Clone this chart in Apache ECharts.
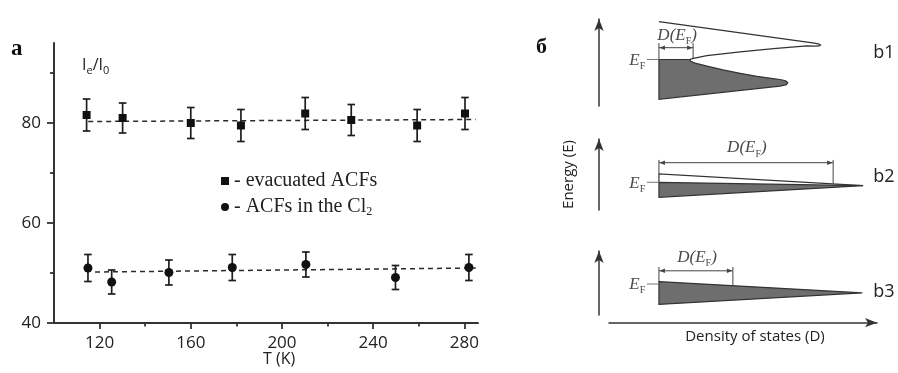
<!DOCTYPE html>
<html><head><meta charset="utf-8">
<script src="https://cdn.jsdelivr.net/npm/echarts@6/dist/echarts.min.js"></script>
<style>html,body{margin:0;padding:0;background:#fff}#c{width:898px;height:373px}</style>
</head><body><div id="c"></div>
<script>
// ---------------- Panel a data ----------------
const T_evac   = [114.3, 130.1, 160.0, 182.0, 210.2, 230.4, 259.3, 280.3];
const I_evac   = [81.6, 81.0, 80.0, 79.5, 81.9, 80.6, 79.5, 81.9];
const err_evac = [3.2, 3.0, 3.1, 3.2, 3.2, 3.1, 3.2, 3.2];
const T_cl     = [114.9, 125.3, 150.4, 178.2, 210.5, 249.8, 282.0];
const I_cl     = [51.0, 48.2, 50.1, 51.1, 51.7, 49.1, 51.1];
const err_cl   = [2.7, 2.4, 2.5, 2.6, 2.5, 2.4, 2.6];
const fit_evac = [[115, 80.3], [285, 80.7]];
const fit_cl   = [[118, 50.2], [285, 51.0]];
const x_major = [120, 160, 200, 240, 280];
const x_minor = [140, 180, 220, 260];
const y_major = [40, 60, 80];
const y_minor = [50, 70, 90];
const seriesNames = ['evacuated ACFs', 'ACFs in the Cl2'];

// ---------------- Panel б schematic data (D: density, E: energy rel. to E_F) ----------------
const b1_empty = [[0,9.45],[55.5,4.1],[57.2,3.85],[57.7,3.6],[57.2,3.4],[55.5,3.35],[52.8,3.4],[40.9,2.7],[29.0,1.9],[17.1,0.95],[12.3,0.3],[11.1,0.05]];
const b1_fill  = [[0,0],[11.1,0],[11.3,-0.45],[12.9,-0.9],[17.5,-1.7],[22.9,-2.6],[29,-3.45],[35,-4.2],[40,-4.7],[43.2,-5.0],[45.2,-5.3],[46.0,-5.8],[45.5,-6.3],[43.2,-6.65],[0,-9.95]];
const b2_empty = [[0,0],[0,2.1],[72.9,-0.85]];
const b2_fill  = [[0,0],[72.9,-0.85],[0,-3.75]];
const b3_fill  = [[0,0.6],[72.6,-2.2],[0,-5.1]];
// D(E_F) widths and bracket levels [D_EF, arrowE, tickTopE, leftBottomE, rightBottomE]
const b1_DEF = [12.2, 2.95, 4.1, 0, 0.3];
const b2_DEF = [62.2, 4.9, 5.6, 2.1, -0.25];
const b3_DEF = [26.4, 3.3, 4.25, 0.6, -0.3];
const panelLabels = ['b1', 'b2', 'b3'];

// ---------------- layout ----------------
const panels = [
  {empty: b1_empty, fill: b1_fill, def: b1_DEF, lab: panelLabels[0], defText: [6.5, 6.1], labPos: [76.5, 1.6]},
  {empty: b2_empty, fill: b2_fill, def: b2_DEF, lab: panelLabels[1], defText: [31.4, 8.6], labPos: [76.5, 1.4]},
  {empty: null,     fill: b3_fill, def: b3_DEF, lab: panelLabels[2], defText: [13.6, 6.7], labPos: [76.5, -1.9]}
];
const eRanges = [[-11.625, 10.125], [-6.925, 10.825], [-7.75, 8.25]];

const SANS = '"Open Sans", "Noto Sans", sans-serif';
const SERIF = '"Liberation Serif", "DejaVu Serif", serif';

function errRender(params, api) {
  const x = api.value(0), y = api.value(1), e = api.value(2);
  const t = api.coord([x, y + e]), b = api.coord([x, y - e]);
  const hw = 3.8;
  const st = {stroke: '#1e1e1e', lineWidth: 1.7};
  return {type: 'group', children: [
    {type: 'line', shape: {x1: t[0], y1: t[1], x2: b[0], y2: b[1]}, style: st},
    {type: 'line', shape: {x1: t[0]-hw, y1: t[1], x2: t[0]+hw, y2: t[1]}, style: st},
    {type: 'line', shape: {x1: b[0]-hw, y1: b[1], x2: b[0]+hw, y2: b[1]}, style: st}
  ]};
}

const richDEF = {
  it: {fontStyle: 'italic', fontFamily: SERIF, fontSize: 17, fill: '#4a4a4a', lineHeight: 22},
  sub: {fontFamily: SERIF, fontSize: 10, fill: '#4a4a4a', verticalAlign: 'bottom', lineHeight: 7}
};

function panelRender(p) {
  return function (params, api) {
    const c = pt => api.coord(pt);
    const ch = [];
    const stroke = '#333';
    ch.push({type: 'polygon', shape: {points: p.fill.map(c)}, style: {fill: '#6e6e6e', stroke: stroke, lineWidth: 1.2}});
    if (p.empty) ch.push({type: 'polyline', shape: {points: p.empty.map(c)}, style: {fill: null, stroke: stroke, lineWidth: 1.2}});
    // E_F tick
    const e0 = c([-4.3, 0]), e1 = c([0, 0]);
    ch.push({type: 'line', shape: {x1: e0[0], y1: e0[1], x2: e1[0], y2: e1[1]}, style: {stroke: '#777', lineWidth: 1}});
    // bracket
    const d = p.def;
    const lt = c([0, d[2]]), lb = c([0, d[3]]), rt = c([d[0], d[2]]), rb = c([d[0], d[4]]);
    const al = c([0, d[1]]), ar = c([d[0], d[1]]);
    const bs = {stroke: '#444', lineWidth: 1};
    ch.push({type: 'line', shape: {x1: lt[0], y1: lt[1], x2: lb[0], y2: lb[1]}, style: bs});
    ch.push({type: 'line', shape: {x1: rt[0], y1: rt[1], x2: rb[0], y2: rb[1]}, style: bs});
    ch.push({type: 'line', shape: {x1: al[0], y1: al[1], x2: ar[0], y2: ar[1]}, style: bs});
    ch.push({type: 'polygon', shape: {points: [[al[0]+0.5, al[1]], [al[0]+6, al[1]-2.3], [al[0]+6, al[1]+2.3]]}, style: {fill: '#444'}});
    ch.push({type: 'polygon', shape: {points: [[ar[0]-0.5, ar[1]], [ar[0]-6, ar[1]-2.3], [ar[0]-6, ar[1]+2.3]]}, style: {fill: '#444'}});
    // texts
    const tp = c(p.defText);
    ch.push({type: 'text', x: tp[0], y: tp[1], style: {text: '{it|D(E}{sub|F}{it|)}', rich: richDEF, align: 'center', verticalAlign: 'middle'}});
    const ep = c([-4.9, -0.2]);
    ch.push({type: 'text', x: ep[0], y: ep[1], style: {text: '{it|E}{sub|F}', rich: richDEF, align: 'right', verticalAlign: 'middle'}});
    const lp = c(p.labPos);
    ch.push({type: 'text', x: lp[0], y: lp[1], style: {text: p.lab, fontFamily: SANS, fontSize: 18, fill: '#222', align: 'left', verticalAlign: 'middle'}});
    return {type: 'group', children: ch};
  };
}

const arrowLine = {show: true, onZero: false, symbol: ['none', 'arrow'], symbolSize: [7, 12], lineStyle: {color: '#333', width: 1.5}};

const option = {
  animation: false,
  backgroundColor: '#fff',
  grid: [
    {left: 54, right: 420, top: 43, bottom: 50},
    {left: 599, right: 15, top: 19, height: 87},
    {left: 599, right: 15, top: 139, height: 71},
    {left: 599, right: 15, top: 251, height: 64},
    {left: 609, right: 21, top: 300, height: 22.7}
  ],
  xAxis: [
    {gridIndex: 0, type: 'value', min: 100, max: 286,
      axisLine: {show: true, onZero: false, lineStyle: {color: '#333', width: 2}},
      axisTick: {show: true, length: 6, customValues: x_major, lineStyle: {color: '#333', width: 1.8}},
      axisLabel: {customValues: x_major, margin: 12, fontFamily: SANS, fontSize: 17, color: '#222'},
      splitLine: {show: false}},
    {gridIndex: 0, type: 'value', min: 100, max: 286, position: 'bottom',
      axisLine: {show: false, onZero: false},
      axisTick: {show: true, length: 3.5, customValues: x_minor, lineStyle: {color: '#333', width: 1.8}},
      axisLabel: {show: false}, splitLine: {show: false}},
    {gridIndex: 1, type: 'value', min: -21.4, max: 80, show: false},
    {gridIndex: 2, type: 'value', min: -21.4, max: 80, show: false},
    {gridIndex: 3, type: 'value', min: -21.4, max: 80, show: false},
    {gridIndex: 4, type: 'value', min: 0, max: 1,
      axisLine: arrowLine, axisTick: {show: false}, axisLabel: {show: false}, splitLine: {show: false},
      name: 'Density of states (D)', nameLocation: 'middle', nameGap: 7,
      nameTextStyle: {fontFamily: SANS, fontSize: 15, color: '#222', padding: [0, 0, 0, 24]}}
  ],
  yAxis: [
    {gridIndex: 0, type: 'value', min: 40, max: 96,
      axisLine: {show: true, onZero: false, lineStyle: {color: '#333', width: 2}},
      axisTick: {show: true, length: 7, customValues: y_major, lineStyle: {color: '#333', width: 1.8}},
      axisLabel: {customValues: y_major, margin: 13, fontFamily: SANS, fontSize: 17, color: '#222'},
      splitLine: {show: false}},
    {gridIndex: 0, type: 'value', min: 40, max: 96, position: 'left',
      axisLine: {show: false, onZero: false},
      axisTick: {show: true, length: 4, customValues: y_minor, lineStyle: {color: '#333', width: 1.8}},
      axisLabel: {show: false}, splitLine: {show: false}},
    {gridIndex: 1, type: 'value', min: eRanges[0][0], max: eRanges[0][1], axisLine: arrowLine,
      axisTick: {show: false}, axisLabel: {show: false}, splitLine: {show: false}},
    {gridIndex: 2, type: 'value', min: eRanges[1][0], max: eRanges[1][1], axisLine: arrowLine,
      axisTick: {show: false}, axisLabel: {show: false}, splitLine: {show: false},
      name: 'Energy (E)', nameLocation: 'middle', nameGap: 23, nameRotate: 90,
      nameTextStyle: {fontFamily: SANS, fontSize: 15, color: '#222'}},
    {gridIndex: 3, type: 'value', min: eRanges[2][0], max: eRanges[2][1], axisLine: arrowLine,
      axisTick: {show: false}, axisLabel: {show: false}, splitLine: {show: false}},
    {gridIndex: 4, type: 'value', min: 0, max: 1, show: false}
  ],
  legend: {
    data: seriesNames, orient: 'vertical', left: 221, top: 170, padding: 0,
    itemWidth: 8, itemHeight: 8, itemGap: 4,
    textStyle: {fontFamily: SERIF, fontSize: 20, color: '#222', lineHeight: 22,
      rich: {sub: {fontFamily: SERIF, fontSize: 12, color: '#222', verticalAlign: 'bottom', lineHeight: 7}}},
    formatter: n => n === seriesNames[1] ? '- ACFs in the Cl{sub|2}' : '- ' + n
  },
  graphic: [
    {type: 'text', left: 11, top: 38, style: {text: 'a', font: 'bold 23px ' + SERIF, fill: '#111'}},
    {type: 'text', left: 536, top: 36, style: {text: 'б', font: 'bold 22px ' + SERIF, fill: '#111'}},
    {type: 'text', left: 82, top: 57, style: {text: '{m|I}{s|e}{m|/I}{s|0}',
      rich: {m: {fontFamily: SANS, fontSize: 16, fill: '#222', lineHeight: 22},
             s: {fontFamily: SANS, fontSize: 11, fill: '#222', verticalAlign: 'bottom', lineHeight: 7}}}},
    {type: 'text', left: 263, top: 351, style: {text: 'T (K)', font: '16px ' + SANS, fill: '#222'}}
  ],
  series: [
    {type: 'custom', name: 'err_evac', xAxisIndex: 0, yAxisIndex: 0, renderItem: errRender, z: 3,
      data: T_evac.map((t, i) => [t, I_evac[i], err_evac[i]]), encode: {x: 0, y: 1}, silent: true},
    {type: 'custom', name: 'err_cl', xAxisIndex: 0, yAxisIndex: 0, renderItem: errRender, z: 3,
      data: T_cl.map((t, i) => [t, I_cl[i], err_cl[i]]), encode: {x: 0, y: 1}, silent: true},
    {type: 'line', xAxisIndex: 0, yAxisIndex: 0, data: fit_evac, showSymbol: false, z: 2,
      lineStyle: {color: '#2a2a2a', width: 1.5, type: [5, 4]}},
    {type: 'line', xAxisIndex: 0, yAxisIndex: 0, data: fit_cl, showSymbol: false, z: 2,
      lineStyle: {color: '#2a2a2a', width: 1.5, type: [5, 4]}},
    {type: 'scatter', name: seriesNames[0], xAxisIndex: 0, yAxisIndex: 0, symbol: 'rect', symbolSize: 8, z: 4,
      itemStyle: {color: '#111', opacity: 1}, data: T_evac.map((t, i) => [t, I_evac[i]])},
    {type: 'scatter', name: seriesNames[1], xAxisIndex: 0, yAxisIndex: 0, symbol: 'circle', symbolSize: 9, z: 4,
      itemStyle: {color: '#111', opacity: 1}, data: T_cl.map((t, i) => [t, I_cl[i]])},
    ...panels.map((p, i) => ({type: 'custom', xAxisIndex: 2 + i, yAxisIndex: 2 + i, clip: false, silent: true,
      renderItem: panelRender(p), data: [[0, 0]]}))
  ]
};
const chart = echarts.init(document.getElementById('c'));
chart.setOption(option);
</script></body></html>
